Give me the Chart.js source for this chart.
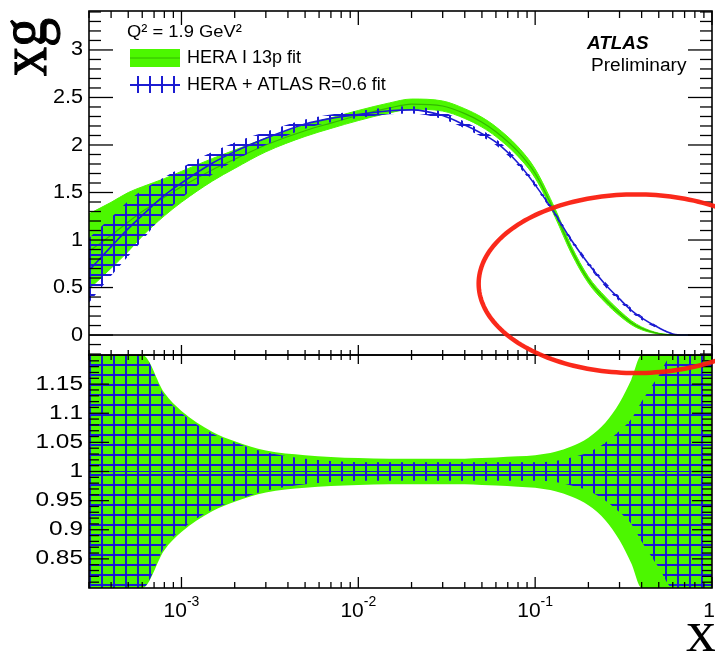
<!DOCTYPE html>
<html>
<head>
<meta charset="utf-8">
<script src="https://cdn.jsdelivr.net/npm/chart.js@4/dist/chart.umd.min.js"></script>
<style>
  html, body { margin: 0; padding: 0; background: #fff; }
</style>
</head>
<body>
<canvas id="gluonChart" width="715" height="653"></canvas>
<script>
// x grid shared by both fits
const xValues = [3e-4, 4e-4, 5e-4, 6e-4, 8e-4, 1e-3, 1.5e-3, 2e-3, 3e-3, 5e-3, 7e-3,
  1e-2, 1.5e-2, 2e-2, 3e-2, 4e-2, 5e-2, 6e-2, 8e-2, 0.1, 0.13, 0.16, 0.2, 0.25,
  0.3, 0.35, 0.4, 0.5, 0.6, 0.7, 0.8, 0.9, 1.0];

// HERA I 13p fit: central xg and relative uncertainty
const gluonHeraI = [0.88, 1.05, 1.19, 1.30, 1.45, 1.56, 1.74, 1.85, 2.00, 2.15, 2.23,
  2.31, 2.39, 2.43, 2.41, 2.33, 2.24, 2.14, 1.93, 1.70, 1.28, 0.90, 0.58, 0.37,
  0.23, 0.13, 0.07, 0.015, 0.002, 0, 0, 0, 0];
const relErrHeraI = [0.45, 0.33, 0.26, 0.20, 0.135, 0.104, 0.068, 0.052, 0.036, 0.028, 0.025,
  0.023, 0.022, 0.022, 0.022, 0.022, 0.023, 0.024, 0.026, 0.028, 0.034, 0.043, 0.058, 0.084,
  0.118, 0.158, 0.21, 0.30, 0.40, 0.50, 0.55, 0.60, 0.60];

// HERA + ATLAS R=0.6 fit
const gluonHeraAtlas = [0.68, 0.93, 1.12, 1.26, 1.47, 1.60, 1.81, 1.93, 2.07, 2.22, 2.28,
  2.32, 2.36, 2.37, 2.31, 2.21, 2.12, 2.03, 1.81, 1.58, 1.27, 1.00, 0.75, 0.53,
  0.38, 0.26, 0.18, 0.076, 0.012, 0, 0, 0, 0];
const relErrHeraAtlas = [0.50, 0.33, 0.26, 0.21, 0.13, 0.10, 0.065, 0.05, 0.033, 0.022, 0.018,
  0.016, 0.016, 0.016, 0.016, 0.016, 0.016, 0.016, 0.016, 0.016, 0.018, 0.024, 0.033, 0.05,
  0.07, 0.09, 0.12, 0.165, 0.21, 0.30, 0.40, 0.50, 0.50];

// tick labels
const yTopTicks = [0, 0.5, 1, 1.5, 2, 2.5, 3];
const yRatioTicks = [0.85, 0.9, 0.95, 1, 1.05, 1.1, 1.15];
const xTickValues = [1e-3, 1e-2, 1e-1, 1];
const xTickLabels = [['10', '-3'], ['10', '-2'], ['10', '-1'], ['1', '']];

// hand-drawn ring: centre (x, xg), half width in decades, half height in xg
const ringCentre = [0.372, 0.54];
const ringRadii = [0.89, 0.94];

const green = '#4cf700';
const greenDark = '#33b800';
const blue = '#1c1cd2';
const ratioMin = 0.8, ratioMax = 1.2;

const ctx = document.getElementById('gluonChart').getContext('2d');

function gridPattern() {
  const c = document.createElement('canvas');
  c.width = 12; c.height = 10;
  const g = c.getContext('2d');
  g.strokeStyle = blue;
  g.lineWidth = 2;
  g.beginPath();
  g.moveTo(6, 0); g.lineTo(6, 10);
  g.moveTo(0, 5); g.lineTo(12, 5);
  g.stroke();
  return ctx.createPattern(c, 'repeat');
}
const hatch = gridPattern();

const clampRatio = v => Math.min(ratioMax, Math.max(ratioMin, v));
const pts = f => xValues.map((x, i) => ({ x: x, y: f(i) }));

function edge(data, axis, order, color, width) {
  return { data: data, yAxisID: axis, order: order, borderColor: color || 'transparent',
    borderWidth: width || 0, pointRadius: 0, fill: false };
}

const datasets = [
  // top panel
  edge(pts(i => gluonHeraI[i] * (1 - relErrHeraI[i])), 'yTop', 20, green, 1),
  Object.assign(edge(pts(i => gluonHeraI[i] * (1 + relErrHeraI[i])), 'yTop', 19, green, 1),
    { fill: '-1', backgroundColor: green }),
  edge(pts(i => gluonHeraI[i]), 'yTop', 18, greenDark, 1.2),
  edge(pts(i => gluonHeraAtlas[i] * (1 - relErrHeraAtlas[i])), 'yTop', 17),
  Object.assign(edge(pts(i => gluonHeraAtlas[i] * (1 + relErrHeraAtlas[i])), 'yTop', 16),
    { fill: '-1', backgroundColor: hatch }),
  edge(pts(i => gluonHeraAtlas[i]), 'yTop', 15, blue, 1.6),
  // ratio panel
  edge(pts(i => clampRatio(1 - relErrHeraI[i])), 'yRatio', 14),
  Object.assign(edge(pts(i => clampRatio(1 + relErrHeraI[i])), 'yRatio', 13),
    { fill: '-1', backgroundColor: green }),
  edge(pts(i => clampRatio(1 - relErrHeraAtlas[i])), 'yRatio', 12),
  Object.assign(edge(pts(i => clampRatio(1 + relErrHeraAtlas[i])), 'yRatio', 11),
    { fill: '-1', backgroundColor: hatch }),
  edge(pts(() => 1), 'yRatio', 10, blue, 1.2)
];

function drawText(c, text, x, y, font, align, sx) {
  c.save();
  c.font = font;
  c.textBaseline = 'middle';
  const w = c.measureText(text).width * sx;
  let left = x;
  if (align === 'right') left = x - w;
  if (align === 'center') left = x - w / 2;
  c.translate(left, y);
  c.scale(sx, 1);
  c.textAlign = 'left';
  c.fillText(text, 0, 0);
  c.restore();
}

function line(c, x1, y1, x2, y2) {
  c.beginPath(); c.moveTo(x1, y1); c.lineTo(x2, y2); c.stroke();
}

const rootStyle = {
  id: 'rootStyle',
  afterDatasetsDraw(chart) {
    const c = chart.ctx;
    const xs = chart.scales.x, yt = chart.scales.yTop, yr = chart.scales.yRatio;
    const L = xs.left, R = xs.right;
    c.save();
    c.strokeStyle = '#000';
    c.fillStyle = '#000';

    // frames and zero line
    c.lineWidth = 1.6;
    c.strokeRect(L, yt.top, R - L, yt.bottom - yt.top);
    c.strokeRect(L, yr.top, R - L, yr.bottom - yr.top);
    line(c, L, yt.getPixelForValue(0), R, yt.getPixelForValue(0));

    // y ticks, top panel
    c.lineWidth = 1.3;
    for (let k = -2; k <= 34; k++) {
      const py = yt.getPixelForValue(k / 10);
      const len = k % 5 === 0 ? 24 : 12;
      line(c, L, py, L + len, py);
      line(c, R, py, R - len, py);
    }
    // y ticks, ratio panel
    for (let k = 81; k <= 119; k++) {
      const py = yr.getPixelForValue(k / 100);
      const len = k % 5 === 0 ? 20 : 10;
      line(c, L, py, L + len, py);
      line(c, R, py, R - len, py);
    }
    // x ticks
    for (let d = -4; d <= 0; d++) {
      for (let m = 1; m <= 9; m++) {
        const v = m * Math.pow(10, d);
        if (v < xs.min * 0.999 || v > xs.max * 1.001) continue;
        const px = xs.getPixelForValue(v);
        const major = m === 1;
        line(c, px, yt.top, px, yt.top + (major ? 14 : 7));
        line(c, px, yt.bottom, px, yt.bottom - (major ? 10 : 5));
        line(c, px, yr.top, px, yr.top + (major ? 9 : 5));
        line(c, px, yr.bottom, px, yr.bottom - (major ? 11 : 6));
      }
    }

    // tick labels
    const font = 'px "Liberation Sans", Arial, sans-serif';
    yTopTicks.forEach(v => drawText(c, String(v), 83, yt.getPixelForValue(v), '20' + font, 'right', 1.08));
    yRatioTicks.forEach(v => drawText(c, String(v), 83, yr.getPixelForValue(v), '20' + font, 'right', 1.22));
    xTickValues.forEach((v, i) => {
      const [base, sup] = xTickLabels[i];
      c.font = '21' + font;
      const wb = c.measureText(base).width;
      c.font = '14' + font;
      const ws = c.measureText(sup).width;
      let left = xs.getPixelForValue(v) - (wb + ws) / 2;
      if (left + wb + ws > 715) left = 715 - wb - ws;
      c.textAlign = 'left';
      c.textBaseline = 'alphabetic';
      c.font = '21' + font;
      c.fillText(base, left, 617);
      c.font = '14' + font;
      c.fillText(sup, left + wb, 606);
    });

    // axis titles
    const serif = '"Liberation Serif", "Times New Roman", serif';
    c.save();
    c.font = '58px ' + serif;
    c.translate(46, 18);
    c.rotate(-Math.PI / 2);
    c.scale(1, 1.15);
    c.textAlign = 'right';
    c.textBaseline = 'alphabetic';
    c.lineWidth = 1;
    c.strokeStyle = '#000';
    c.fillText('xg', 0, 0);
    c.strokeText('xg', 0, 0);
    c.restore();
    c.font = '60px ' + serif;
    c.textAlign = 'right';
    c.textBaseline = 'alphabetic';
    c.fillText('x', 716, 651);

    // legend
    drawText(c, 'Q\u00b2 = 1.9 GeV\u00b2', 127, 32, '17' + font, 'left', 1.08);
    c.fillStyle = green;
    c.fillRect(130, 49, 50, 18);
    c.strokeStyle = greenDark;
    c.lineWidth = 1;
    line(c, 130, 58, 180, 58);
    c.fillStyle = hatch;
    c.fillRect(130, 76, 50, 17);
    c.fillStyle = '#000';
    drawText(c, 'HERA I 13p fit', 187, 58, '18' + font, 'left', 1);
    drawText(c, 'HERA + ATLAS R=0.6 fit', 187, 85, '18' + font, 'left', 1);
    drawText(c, 'ATLAS', 587, 44, 'italic bold 18' + font, 'left', 1.05);
    drawText(c, 'Preliminary', 591, 66, '18' + font, 'left', 1.06);
    c.restore();
  },
  afterDraw(chart) {
    const c = chart.ctx;
    const xs = chart.scales.x, yt = chart.scales.yTop;
    const lx = Math.log10(ringCentre[0]);
    c.save();
    c.strokeStyle = 'rgba(250, 30, 15, 0.95)';
    c.lineWidth = 4.5;
    c.beginPath();
    for (let k = 0; k <= 200; k++) {
      const t = 2 * Math.PI * k / 200;
      const px = xs.getPixelForValue(Math.pow(10, lx + ringRadii[0] * Math.cos(t)));
      const py = yt.getPixelForValue(ringCentre[1] + ringRadii[1] * Math.sin(t));
      if (k === 0) c.moveTo(px, py); else c.lineTo(px, py);
    }
    c.closePath();
    c.stroke();
    c.restore();
  }
};

const hiddenAxis = { ticks: { display: false }, grid: { display: false }, border: { display: false } };

new Chart(ctx, {
  type: 'line',
  data: { datasets: datasets },
  options: {
    responsive: false,
    animation: false,
    devicePixelRatio: 1,
    layout: { padding: { left: 0, right: 3, top: 11, bottom: 0 } },
    elements: { line: { cubicInterpolationMode: 'monotone' }, point: { radius: 0 } },
    plugins: { legend: { display: false }, tooltip: { enabled: false } },
    scales: {
      x: Object.assign({ type: 'logarithmic', min: 3e-4, max: 1, position: 'bottom',
        afterFit: s => { s.height = 65; } }, hiddenAxis),
      yRatio: Object.assign({ type: 'linear', position: 'left', stack: 'panels', stackWeight: 233,
        min: ratioMin, max: ratioMax, afterFit: s => { s.width = 89; } }, hiddenAxis),
      yTop: Object.assign({ type: 'linear', position: 'left', stack: 'panels', stackWeight: 344,
        min: -0.21, max: 3.41, afterFit: s => { s.width = 89; } }, hiddenAxis)
    }
  },
  plugins: [rootStyle]
});
</script>
</body>
</html>
